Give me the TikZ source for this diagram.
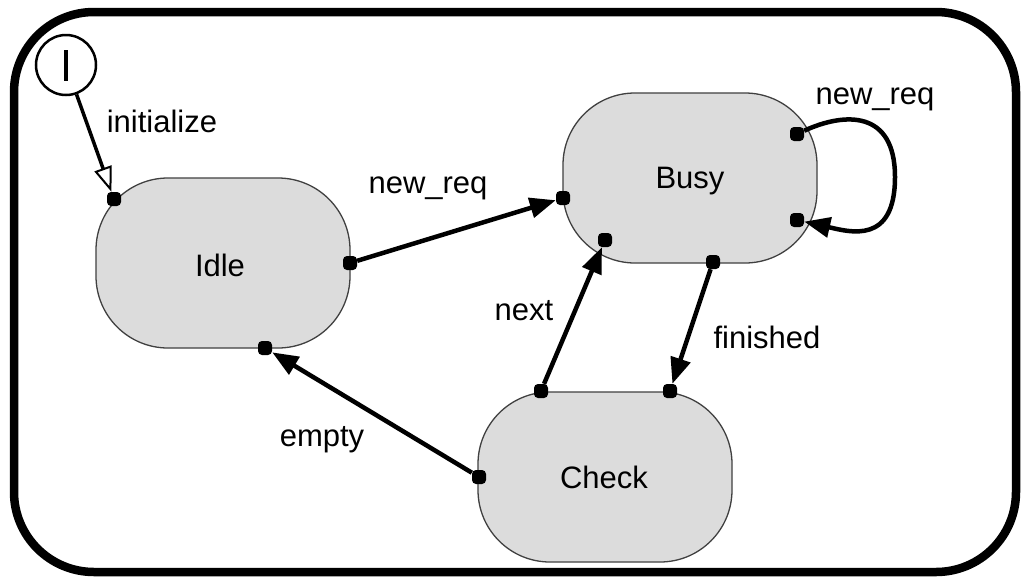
\documentclass[tikz,border=0pt]{standalone}
\usepackage{fontspec}
\setmainfont{Liberation Sans}
\usetikzlibrary{arrows.meta}
\definecolor{stfill}{RGB}{220,220,220}
\tikzset{
 state/.style={draw=black!75, line width=1.3pt, fill=stfill, rounded corners=72pt,
   minimum width=254pt, minimum height=170pt, inner sep=0pt},
 dot/.style={fill=black, rounded corners=4pt, minimum size=14pt, inner sep=0pt},
 lbl/.style={anchor=base, inner sep=0pt, font=\fontsize{31}{36}\selectfont},
 arr/.style={line width=4.5pt, -{Triangle[length=26pt,width=20pt]}},
 initarr/.style={line width=3.5pt, -{Triangle[length=25pt,width=18pt,fill=white,line width=2pt]}},
 initc/.style={circle, draw, line width=2.5pt, fill=white, minimum size=60pt, inner sep=0pt},
 frame/.style={line width=8.5pt, rounded corners=80pt}
}
\begin{document}
\begin{tikzpicture}[x=1pt,y=-1pt]
\useasboundingbox (0,0) rectangle (1028,582);
\fill[white] (0,0) rectangle (1028,582);
\draw[frame] (14,12) rectangle (1016,572);
% states
\node[state] (idle) at (223,263) {};
\node[state] (busy) at (690,178) {};
\node[state] (check) at (605,477) {};
% initial
\node[initc] (init) at (66,65) {};
\draw[line width=3.5pt] (66,50) -- (66,81);
% dots
\node[dot] (iTL) at (114,199) {};
\node[dot] (iR) at (350,263) {};
\node[dot] (iB) at (265,348) {};
\node[dot] (bL) at (563,198) {};
\node[dot] (bLL) at (605,240) {};
\node[dot] (bB) at (713,262) {};
\node[dot] (bRT) at (797,134) {};
\node[dot] (bRB) at (797,220) {};
\node[dot] (cTL) at (541,391) {};
\node[dot] (cTR) at (670,391) {};
\node[dot] (cL) at (479,477) {};
% connectors
\draw[initarr] (init) -- (iTL);
\draw[arr] (iR) -- (bL);
\draw[arr] (cTL) -- (bLL);
\draw[arr] (bB) -- (cTR);
\draw[arr] (cL) -- (iB);
\draw[arr] (bRT) .. controls (845,112) and (895,110) .. (895,177) .. controls (895,245) and (850,232) .. (bRB);
% labels
\node[lbl] (lIdle) at (220,276) {Idle};
\node[lbl] (lBusy) at (690,188) {Busy};
\node[lbl] (lCheck) at (604,488) {Check};
\node[lbl] (lInit) at (162,132) {initialize};
\node[lbl] (lNR1) at (428,193) {new\_req};
\node[lbl] (lNR2) at (875,104) {new\_req};
\node[lbl] (lNext) at (524,320) {next};
\node[lbl] (lFin) at (767,348) {finished};
\node[lbl] (lEmpty) at (322,446) {empty};
\end{tikzpicture}
\end{document}
